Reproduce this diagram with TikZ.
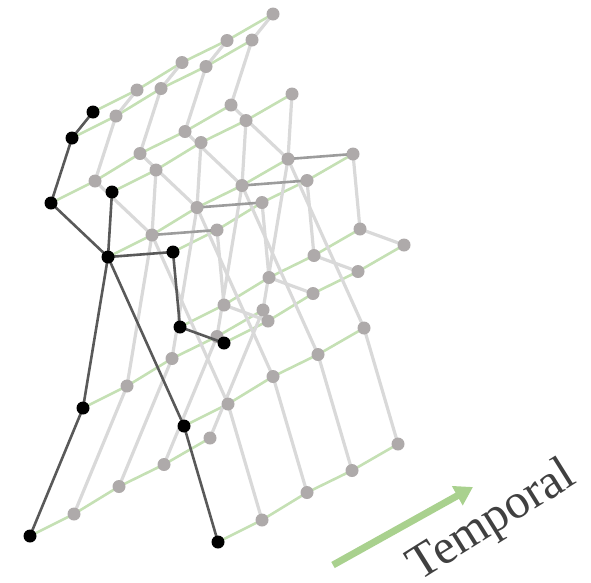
\documentclass[tikz,border=0pt]{standalone}
\usepackage{fontspec}
\setmainfont{Liberation Serif}
\usetikzlibrary{arrows.meta}
\definecolor{tempgreen}{HTML}{C5E0B4}
\definecolor{arrowgreen}{HTML}{A9D18E}
\definecolor{jointgray}{HTML}{AEAAAA}
\definecolor{bonegray}{HTML}{D9D9D9}
\definecolor{armgray}{HTML}{9C9C9C}
\definecolor{ink}{HTML}{595959}
\definecolor{label}{HTML}{404040}

\begin{document}
\begin{tikzpicture}[x=1pt,y=-1pt,
 joint/.style={circle,fill=jointgray,inner sep=0pt,minimum size=13pt},
 keyjoint/.style={joint,fill=black},
 bone/.style={line width=3.2pt,draw=bonegray},
 keybone/.style={line width=2.6pt,draw=ink},
 link/.style={line width=2.6pt,draw=tempgreen},
 timeflow/.style={-{Triangle[length=18pt,width=21pt]},line width=7pt,draw=arrowgreen}]
\path[use as bounding box] (0,0) rectangle (591,582);
% one pose, shifted along the time axis for every frame
\foreach \f/\dx/\dy in {0/0/0,1/44/22,2/89/49.5,3/134/71.5,4/180/98}
 \foreach \j/\x/\y in {a/93/112,b/72/138,c/51/203,d/112/192,e/108/257,f/173/252,
   g/180/327,h/224/343,i/83/408,j/184/426,k/30/536,l/218/542}
  \coordinate (\j\f) at (\x+\dx,\y-\dy);

\foreach \j in {a,b,c,d,e,f,g,h,i,j,k,l}
 \draw[link] (\j0)--(\j1)--(\j2)--(\j3)--(\j4);

\foreach \f in {4,3,2,1}{
 \foreach \u/\v in {a/b,b/c,c/e,d/e,f/g,g/h,e/i,i/k,e/j,j/l}
  \draw[bone] (\u\f)--(\v\f);
 \draw[bone,draw=armgray,line width=2.6pt] (e\f)--(f\f);
}
\foreach \f in {4,3,2,1}
 \foreach \j in {a,b,c,d,e,f,g,h,i,j,k,l}
  \node[joint] (n\j\f) at (\j\f) {};

% the current frame
\foreach \u/\v in {a/b,b/c,c/e,d/e,e/f,f/g,g/h,e/i,i/k,e/j,j/l}
 \draw[keybone] (\u0)--(\v0);
\foreach \j in {a,b,c,d,e,f,g,h,i,j,k,l}
 \node[keyjoint] (n\j0) at (\j0) {};

\coordinate (tstart) at (333,565);
\coordinate (tend) at (473,487);
\draw[timeflow] (tstart)--(tend);
\node[text=label,font=\fontsize{49}{52}\selectfont,rotate=32,anchor=base] (tlabel) at (499,532) {Temporal};
\end{tikzpicture}
\end{document}
